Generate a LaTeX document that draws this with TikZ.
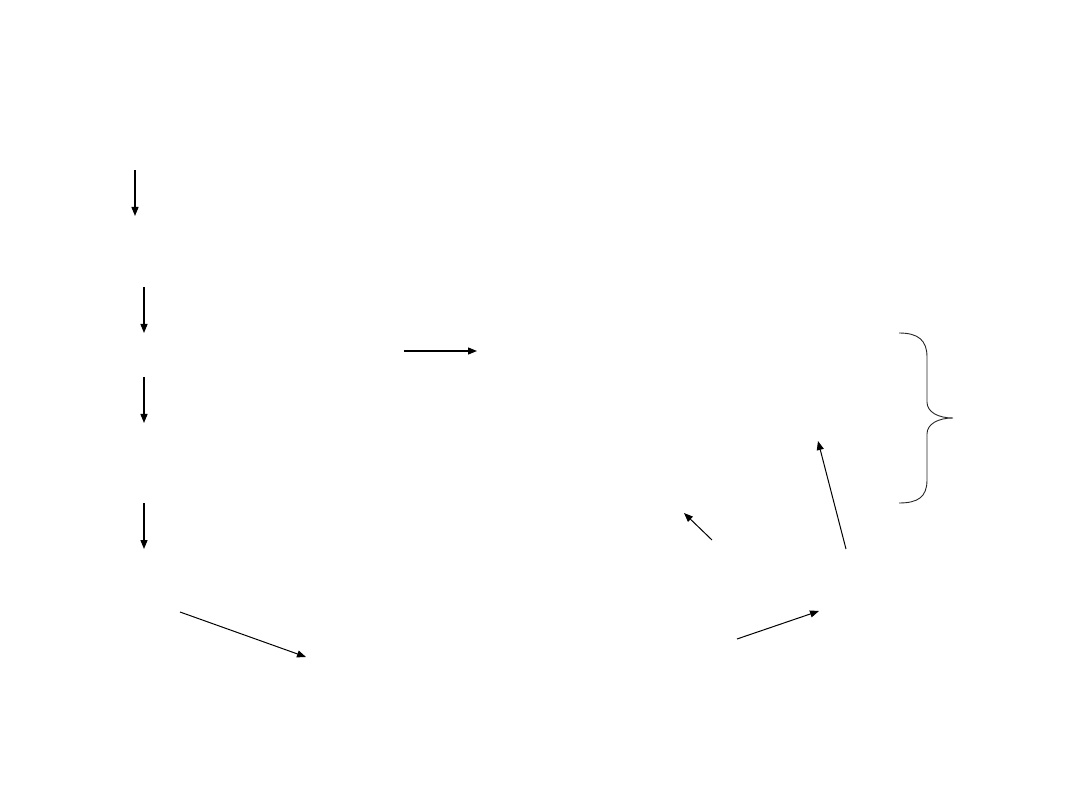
\documentclass[tikz,border=0pt]{standalone}
\usetikzlibrary{arrows.meta}
\begin{document}
\begin{tikzpicture}[x=1pt,y=-1pt,
  arr/.style={line width=1.3pt,-{Triangle[length=9pt,width=7pt]}},
  bracestyle/.style={line width=0.9pt,draw=black!85}]
\useasboundingbox (0,0) rectangle (1080,810);
\fill[white] (0,0) rectangle (1080,810);
% coordinates
\coordinate (a1s) at (135,170); \coordinate (a1e) at (135,216);
\coordinate (a2s) at (144,287); \coordinate (a2e) at (144,333);
\coordinate (a3s) at (144,377); \coordinate (a3e) at (144,423);
\coordinate (a4s) at (144,503); \coordinate (a4e) at (144,549);
\coordinate (a5s) at (404,351); \coordinate (a5e) at (477,351);
\coordinate (a6s) at (180,612); \coordinate (a6e) at (306,657);
\coordinate (a7s) at (712,540); \coordinate (a7e) at (684,513);
\coordinate (a8s) at (846,549); \coordinate (a8e) at (818,441);
\coordinate (a9s) at (737,639); \coordinate (a9e) at (819,611);
\draw[arr] (a1s) -- (a1e);
\draw[arr] (a2s) -- (a2e);
\draw[arr] (a3s) -- (a3e);
\draw[arr] (a4s) -- (a4e);
\draw[arr] (a5s) -- (a5e);
\draw[arr,line width=1pt] (a6s) -- (a6e);
\draw[arr,line width=1pt] (a7s) -- (a7e);
\draw[arr,line width=1pt] (a8s) -- (a8e);
\draw[arr,line width=1pt] (a9s) -- (a9e);
% brace
\coordinate (bt) at (899,333);
\coordinate (bm) at (953,418);
\coordinate (bb) at (899,503);
\draw[bracestyle] (bt) .. controls (918,333) and (927,340) .. (927,357)
  -- (927,402) .. controls (927,412) and (938,418) .. (bm)
  .. controls (938,418) and (927,424) .. (927,434)
  -- (927,480) .. controls (927,497) and (918,503) .. (bb);
\end{tikzpicture}
\end{document}
